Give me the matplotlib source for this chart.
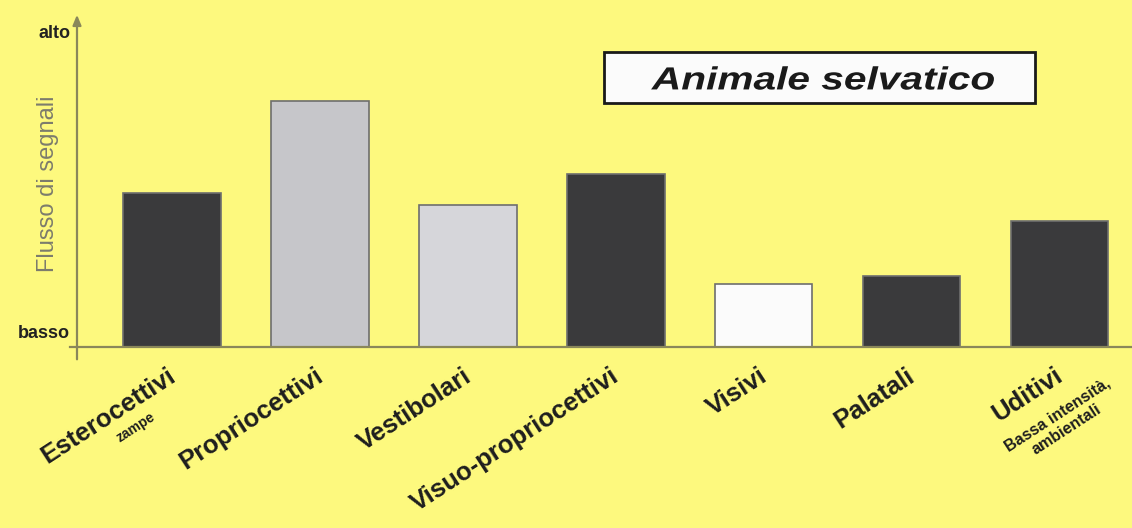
import matplotlib
matplotlib.use('Agg')
import matplotlib.pyplot as plt
from matplotlib.patches import Rectangle, FancyArrowPatch, PathPatch
from matplotlib.lines import Line2D
from matplotlib.textpath import TextPath
from matplotlib.font_manager import FontProperties
from matplotlib.transforms import Affine2D, IdentityTransform

# signal flow per sensory channel (0 = basso, 100 = alto)
categories = ['Esterocettivi', 'Propriocettivi', 'Vestibolari', 'Visuo-propriocettivi',
              'Visivi', 'Palatali', 'Uditivi']
sublabels = ['zampe', '', '', '', '', '', 'Bassa intensità,\nambientali']
values = [49, 78, 45, 55, 20, 22.5, 40]
bar_colors = ['#3a3a3c', '#c6c6ca', '#d6d6da', '#3a3a3c', '#fbfbfb', '#3a3a3c', '#3a3a3c']
level_ticks = [5, 100]
level_labels = ['basso', 'alto']
title = 'Animale selvatico'
ylabel = 'Flusso di segnali'

W, H = 1132, 528
BG = '#fdf97e'
AXIS_COLOR = '#8a875a'
ANGLE = 33

plt.rcParams['font.family'] = ['Liberation Sans', 'DejaVu Sans']

fig = plt.figure(figsize=(W / 100, H / 100), dpi=100, facecolor=BG)
ax = fig.add_axes([77 / W, (H - 347) / H, (W - 77) / W, (347 - 12) / H])
ax.set_facecolor(BG)

x = list(range(len(categories)))
ax.bar(x, values, width=0.66, color=bar_colors, edgecolor='#6e6e6e', linewidth=1.2, zorder=2)
ax.set_xlim(-0.642, 6.49)
ax.set_ylim(0, 106.3)

for s in ax.spines.values():
    s.set_visible(False)
ax.set_xticks([])
ax.set_yticks(level_ticks)
ax.set_yticklabels(level_labels, fontsize=13, fontweight='bold', color='#222222')
ax.tick_params(axis='y', length=0, pad=5)

# axes drawn by hand: y axis with arrow head, baseline overshooting left
ax.add_line(Line2D([-0.007, 1.0], [0, 0], transform=ax.transAxes, color=AXIS_COLOR,
                   lw=1.6, clip_on=False, zorder=3))
arrow = FancyArrowPatch((0, -0.045), (0, 1.0), transform=ax.transAxes,
                        arrowstyle='-|>,head_length=6,head_width=2.5', color=AXIS_COLOR,
                        lw=1.6, clip_on=False, zorder=3)
ax.add_patch(arrow)

fig.text(48 / W, 1 - 184 / H, ylabel, rotation=90, ha='center', va='center',
         fontsize=17, color='#7c7c6c')

# rotated category labels under the baseline, sublabels tucked beneath
sub_offsets = {0: (-26, -58), 6: (2, -54)}
sub_sizes = {0: 10, 6: 11.5}
for i, (cat, sub) in enumerate(zip(categories, sublabels)):
    ax.annotate(cat, xy=(i, 0), xytext=(-4, -12), textcoords='offset points',
                rotation=ANGLE, rotation_mode='anchor', ha='right', va='top',
                fontsize=18.5, fontweight='bold', color='#1e1e1e', annotation_clip=False)
    if sub:
        ax.annotate(sub, xy=(i, 0), xytext=sub_offsets[i], textcoords='offset points',
                    rotation=ANGLE, rotation_mode='anchor', ha='center', va='center',
                    fontsize=sub_sizes[i], fontweight='bold', color='#1e1e1e',
                    multialignment='center', annotation_clip=False, linespacing=1.15)

# title box with a widened bold-italic lettering
fig.add_artist(Rectangle((604 / W, 1 - 103 / H), (1035 - 604) / W, (103 - 52) / H,
                         transform=fig.transFigure, facecolor='#fbfbfb',
                         edgecolor='#1a1a1a', lw=2))
tp = TextPath((0, 0), title, size=32,
              prop=FontProperties(family='Liberation Sans', weight='bold', style='italic'))
ext = tp.get_extents()
sx = 1.27
cx, cy = (604 + 1035) / 2 + 3, H - 78
tr = (Affine2D().translate(-(ext.x0 + ext.x1) / 2, -(ext.y0 + ext.y1) / 2)
      .scale(sx, 1.0).translate(cx, cy))
fig.add_artist(PathPatch(tp, transform=tr + IdentityTransform(), facecolor='#1a1a1a',
                         edgecolor='none'))

fig.savefig('out.png', dpi=100, facecolor=BG)
